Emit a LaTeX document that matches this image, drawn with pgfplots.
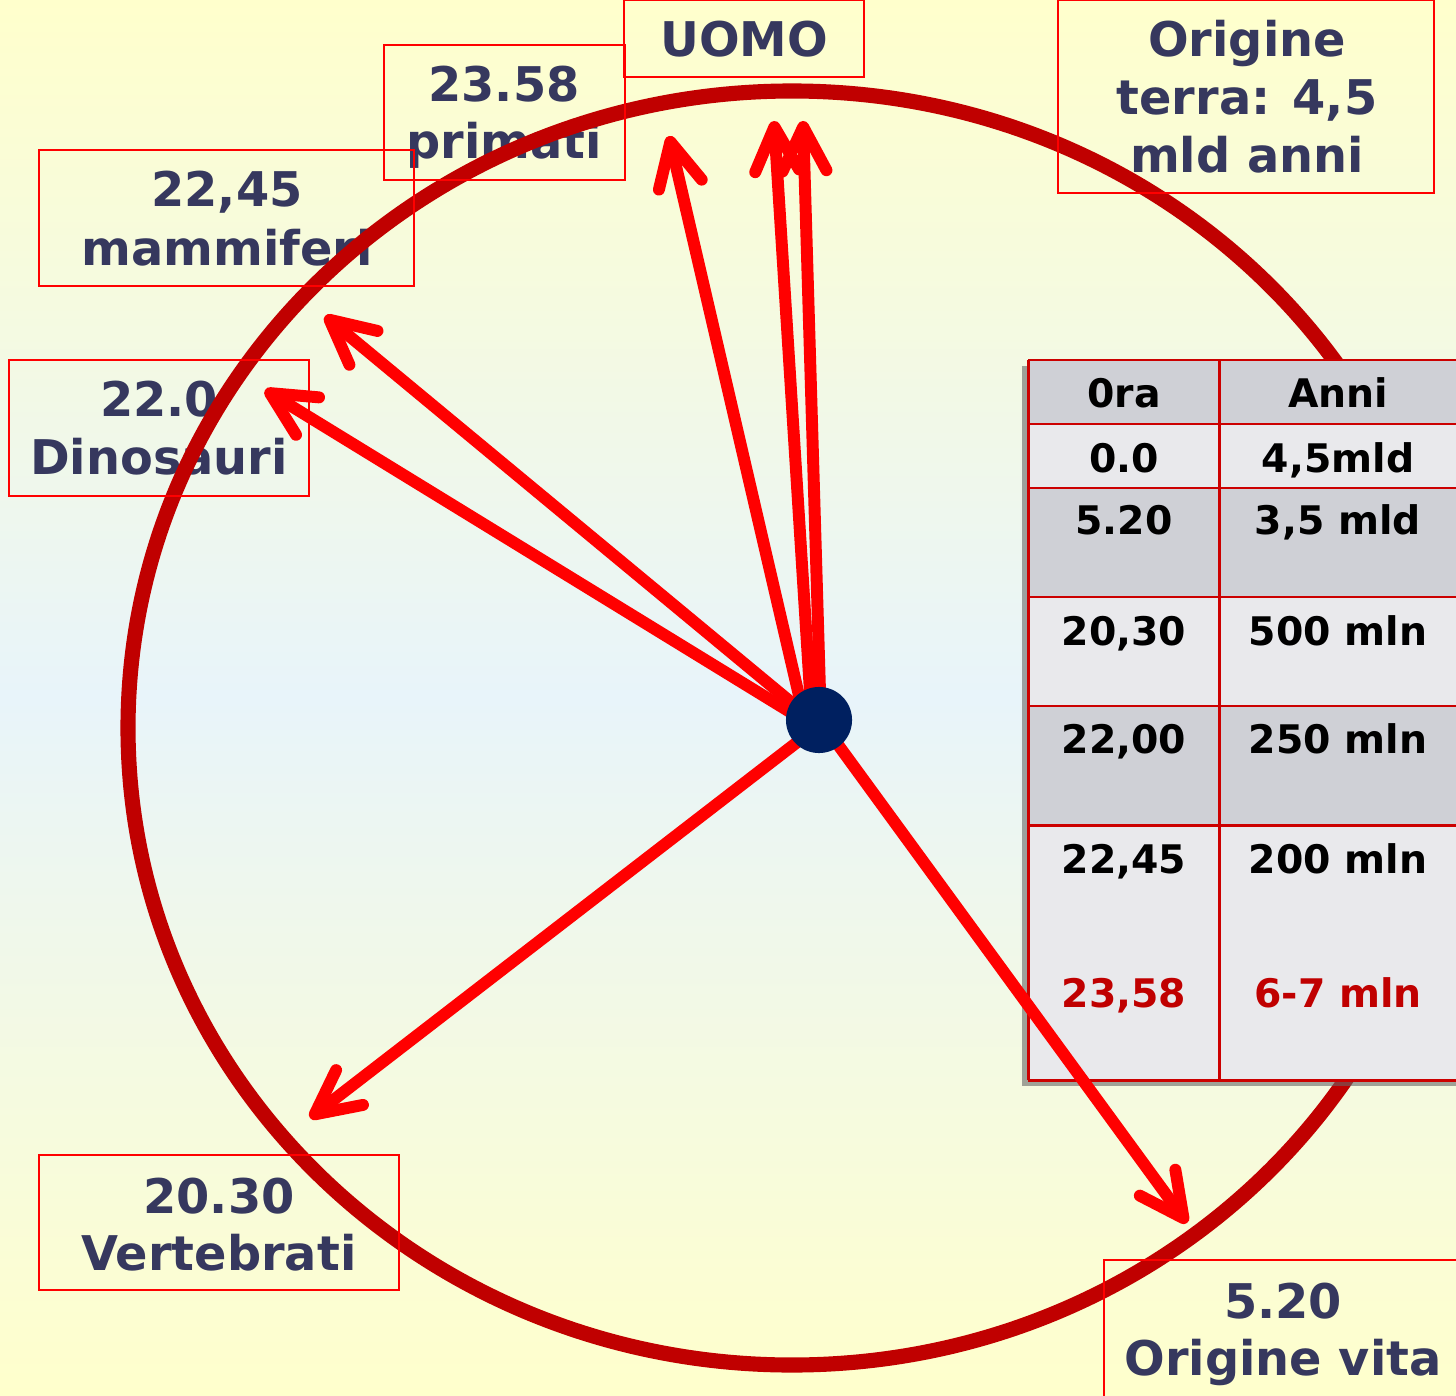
\documentclass[border=0pt]{standalone}
\usepackage{fontspec}
\setmainfont{DejaVu Sans}
\usepackage{pgfplots}
\pgfplotsset{compat=1.18}
\usetikzlibrary{arrows.meta}
\definecolor{bgY}{RGB}{255,255,204}
\definecolor{bgB}{RGB}{232,244,250}
\definecolor{txt}{RGB}{54,56,94}
\definecolor{ring}{RGB}{192,0,0}
\definecolor{arr}{RGB}{255,0,0}
\definecolor{dotc}{RGB}{0,32,96}
\definecolor{tgray}{RGB}{207,208,214}
\definecolor{tlight}{RGB}{233,233,236}
\definecolor{tline}{RGB}{204,0,0}
\definecolor{tred}{RGB}{192,0,0}
\tikzset{
  lbl/.style={text=txt, font=\fontsize{13.6}{16}\selectfont\bfseries, anchor=base, inner sep=0pt},
  tbl/.style={text=black, font=\fontsize{11.2}{13}\selectfont\bfseries, anchor=base, inner sep=0pt},
  box/.style={draw=arr, line width=0.6pt},
  tl/.style={tline, line width=0.85pt},
  arrw/.style={arr, line width=3.4pt, line cap=round, -{Straight Barb[length=12.5pt,width=12.5pt,round]}}
}
\begin{document}
\begin{tikzpicture}
\begin{axis}[at={(0,0)}, anchor=south west, scale only axis,
  width=14.56cm, height=13.95cm,
  xmin=0, xmax=1456, ymin=0, ymax=1395, y dir=reverse,
  hide axis, clip=false]
% background
\fill[top color=bgY, bottom color=bgY, middle color=bgB] (0,0) rectangle (1456,1395);
% labels
\node[lbl] at (744,57) {UOMO};
\node[lbl] at (504,102) {23.58};
\node[lbl] at (504,159) {primati};
\node[lbl] at (227,207) {22,45};
\node[lbl] at (227,266) {mammiferi};
\node[lbl] at (159,417) {22.0};
\node[lbl] at (159,475) {Dinosauri};
\node[lbl] at (1247,57) {Origine};
\node[lbl] at (1247,115) {terra: 4,5};
\node[lbl] at (1247,173) {mld anni};
\node[lbl] at (219,1213) {20.30};
\node[lbl] at (219,1270) {Vertebrati};
\node[lbl] at (1283,1318) {5.20};
\node[lbl] at (1283,1375) {Origine vita};
% ring
\draw[ring, line width=4.3pt] (792,728) ellipse [x radius=6.64cm, y radius=6.37cm];
% boxes
\draw[box] (624,0) rectangle (864,77);
\draw[box] (384,45) rectangle (625,180);
\draw[box] (39,150) rectangle (414,286);
\draw[box] (9,360) rectangle (309,496);
\draw[box] (1058,0) rectangle (1434,193);
\draw[box] (39,1155) rectangle (399,1290);
\draw[box] (1104,1260) rectangle (1470,1400);
% arrows
\addplot[arrw] coordinates {(800,740) (310,1118)};
\addplot[arrw] coordinates {(795,715) (265,390)};
\addplot[arrw] coordinates {(798,708) (325,316)};
\addplot[arrw] coordinates {(800,700) (669,136)};
\addplot[arrw] coordinates {(810,692) (774,121)};
\addplot[arrw] coordinates {(820,692) (803,121)};
% table
\fill[black!60, opacity=0.6] (1022,366) rectangle (1470,1086);
\fill[tgray]  (1028,360) rectangle (1470,424);
\fill[tlight] (1028,424) rectangle (1470,488);
\fill[tgray]  (1028,488) rectangle (1470,597);
\fill[tlight] (1028,597) rectangle (1470,706);
\fill[tgray]  (1028,706) rectangle (1470,825);
\fill[tlight] (1028,825) rectangle (1470,1080);
\draw[tl] (1028,360) -- (1470,360);
\draw[tl] (1028,424) -- (1470,424);
\draw[tl] (1028,488) -- (1470,488);
\draw[tl] (1028,597) -- (1470,597);
\draw[tl] (1028,706) -- (1470,706);
\draw[tl] (1028,825) -- (1470,825);
\draw[tl] (1028,1080) -- (1470,1080);
\draw[tl] (1028,360) -- (1028,1080);
\draw[tl] (1219,360) -- (1219,1080);
\node[tbl] at (1124,407) {0ra};
\node[tbl] at (1338,407) {Anni};
\node[tbl] at (1124,472) {0.0};
\node[tbl] at (1338,472) {4,5mld};
\node[tbl] at (1124,534) {5.20};
\node[tbl] at (1338,534) {3,5 mld};
\node[tbl] at (1124,645) {20,30};
\node[tbl] at (1338,645) {500 mln};
\node[tbl] at (1124,753) {22,00};
\node[tbl] at (1338,753) {250 mln};
\node[tbl] at (1124,873) {22,45};
\node[tbl] at (1338,873) {200 mln};
\node[tbl, text=tred] at (1124,1007) {23,58};
\node[tbl, text=tred] at (1338,1007) {6-7 mln};
% arrow over table
\addplot[arrw] coordinates {(836,742) (1187,1223)};
% centre dot
\addplot[only marks, mark=*, mark size=9.2pt, color=dotc] coordinates {(819,720)};
\end{axis}
\pgfresetboundingbox
\useasboundingbox (0,0) rectangle (14.56cm,13.95cm);
\end{tikzpicture}
\end{document}
